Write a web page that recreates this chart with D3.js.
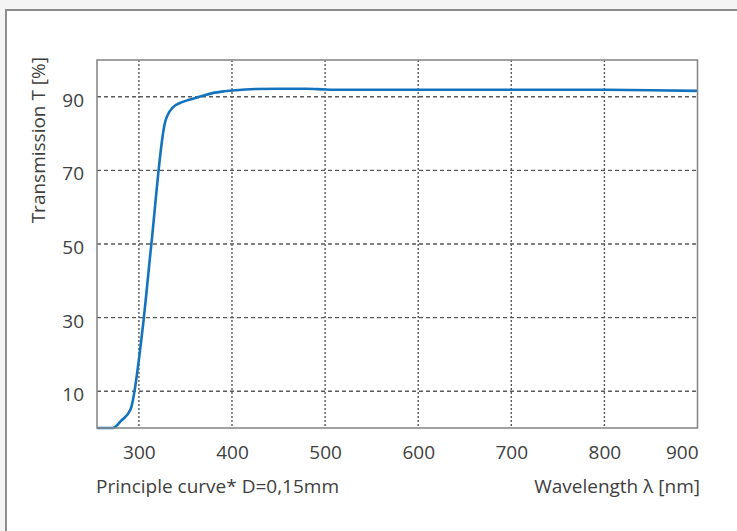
<!DOCTYPE html>
<html>
<head>
<meta charset="utf-8">
<script src="https://cdn.jsdelivr.net/npm/d3@7"></script>
<style>
  html, body { margin: 0; padding: 0; background: #f4f4f4; }
  svg { display: block; }
  text { font-family: "Open Sans", sans-serif; fill: #404040; }
</style>
</head>
<body>
<svg id="chart" width="737" height="531"></svg>
<script>
// Data
const wavelengths = [255, 272, 281, 291, 304, 313, 328, 336, 345, 354, 365, 379, 392, 404, 425, 450, 480, 500, 520, 600, 700, 800, 850, 900];
const transmission = [0, 0, 2, 5, 27, 49, 83, 87, 88.4, 89.2, 90.0, 91.0, 91.5, 91.8, 92.1, 92.2, 92.2, 92.0, 91.9, 91.9, 91.9, 91.9, 91.8, 91.6];
const xTicks = [300, 400, 500, 600, 700, 800, 900];
const xGrid = [300, 400, 500, 600, 700, 800];
const yTicks = [10, 30, 50, 70, 90];
const yLabel = "Transmission T [%]";
const xLabel = "Wavelength λ [nm]";
const noteLabel = "Principle curve* D=0,15mm";

const svg = d3.select("#chart");
const W = 737, H = 531;
const plot = { left: 97, right: 697.5, top: 60, bottom: 428 };
const FS = "19px";

// frame
svg.append("rect").attr("x", 6).attr("y", 10).attr("width", W).attr("height", H)
  .attr("fill", "#ffffff").attr("stroke", "#8c8c8c").attr("stroke-width", 2);

const x = d3.scaleLinear().domain([255, 900]).range([plot.left, plot.right]);
const y = d3.scaleLinear().domain([0, 100]).range([plot.bottom, plot.top]);

// gridlines
const g = svg.append("g");
g.selectAll(".hgrid").data(yTicks).join("line")
  .attr("x1", plot.left).attr("x2", plot.right)
  .attr("y1", d => y(d)).attr("y2", d => y(d))
  .attr("stroke", "#5a5a5a").attr("stroke-width", 1.4)
  .attr("stroke-dasharray", "4,3");
g.selectAll(".vgrid").data(xGrid).join("line")
  .attr("x1", d => x(d)).attr("x2", d => x(d))
  .attr("y1", plot.top).attr("y2", plot.bottom)
  .attr("stroke", "#5a5a5a").attr("stroke-width", 1.4)
  .attr("stroke-dasharray", "2,2");

// curve
const line = d3.line().x((d, i) => x(wavelengths[i])).y(d => y(d)).curve(d3.curveMonotoneX);
svg.append("path").datum(transmission)
  .attr("d", line)
  .attr("fill", "none").attr("stroke", "#1473bd").attr("stroke-width", 2.6)
  .attr("stroke-linejoin", "round");

// plot border
svg.append("rect").attr("x", plot.left).attr("y", plot.top)
  .attr("width", plot.right - plot.left).attr("height", plot.bottom - plot.top)
  .attr("fill", "none").attr("stroke", "#8a8a8a").attr("stroke-width", 1.6);

// axes (labels only)
const xAxis = d3.axisBottom(x).tickValues(xTicks).tickSize(0).tickPadding(0);
const xg = svg.append("g").attr("transform", `translate(0,${plot.bottom})`).call(xAxis);
xg.select(".domain").remove();
xg.selectAll("text").attr("dy", null).attr("y", 31).style("font-size", FS)
  .style("font-family", "'Open Sans', sans-serif").attr("fill", "#404040");
xg.selectAll(".tick").filter(d => d === 900).select("text").attr("text-anchor", "end").attr("x", plot.right - x(900) + 0.5);

const yAxis = d3.axisLeft(y).tickValues(yTicks).tickSize(0).tickPadding(0);
const yg = svg.append("g").attr("transform", `translate(${plot.left},0)`).call(yAxis);
yg.select(".domain").remove();
yg.selectAll("text").attr("x", -13).attr("dy", null).attr("y", 9.5).style("font-size", FS)
  .style("font-family", "'Open Sans', sans-serif").attr("fill", "#404040");

// axis titles
svg.append("text").attr("transform", "translate(45,57) rotate(-90)")
  .attr("text-anchor", "end").style("font-size", FS).text(yLabel);
svg.append("text").attr("x", 700).attr("y", 493).attr("text-anchor", "end")
  .style("font-size", FS).text(xLabel);
svg.append("text").attr("x", 96).attr("y", 493).attr("text-anchor", "start")
  .style("font-size", FS).text(noteLabel);
</script>
</body>
</html>
